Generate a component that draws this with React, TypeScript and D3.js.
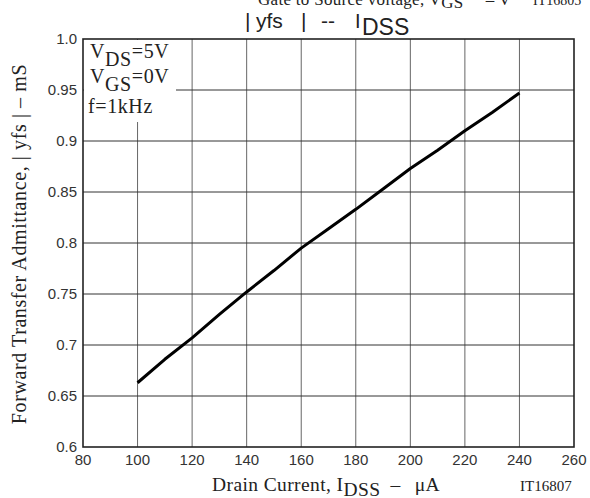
import * as d3 from "d3";

// Drain current (uA) vs forward transfer admittance (mS)
const currents = [100, 110, 120, 130, 140, 150, 160, 170, 180, 190, 200, 210, 220, 230, 240];
const admittance = [0.663, 0.686, 0.707, 0.730, 0.752, 0.773, 0.795, 0.814, 0.833, 0.853, 0.873, 0.891, 0.910, 0.928, 0.947];

const xTicks = [80, 100, 120, 140, 160, 180, 200, 220, 240, 260];
const yTicks = [0.6, 0.65, 0.7, 0.75, 0.8, 0.85, 0.9, 0.95, 1.0];
const yTickLabels = ["0.6", "0.65", "0.7", "0.75", "0.8", "0.85", "0.9", "0.95", "1.0"];

const serif = "'Liberation Serif', 'Times New Roman', serif";
const sans = "'Liberation Sans', Arial, sans-serif";

export default function App() {
  const width = 590;
  const height = 498;

  const marginTop = 39;
  const marginRight = 16;
  const marginBottom = 51;
  const marginLeft = 83;

  const x = d3.scaleLinear().domain([80, 260]).range([marginLeft, width - marginRight]);
  const y = d3.scaleLinear().domain([0.6, 1.0]).range([height - marginBottom, marginTop]);

  const points = currents.map((c, i) => [c, admittance[i]] as [number, number]);
  const line = d3.line<[number, number]>()
    .x(d => x(d[0]))
    .y(d => y(d[1]));

  return (
    <svg
      width={width}
      height={height}
      viewBox={`0 0 ${width} ${height}`}
      style={{ position: "absolute", left: 0, top: 0, background: "white" }}
    >
      {/* header of the previous chart, cut by the page edge */}
      <text x={258} y={5} fontFamily={serif} fontSize={17} fill="#222" letterSpacing={0.3}>
        Gate to Source voltage, V
        <tspan dy={3}>GS</tspan>
        <tspan dy={-3} dx={22}>–</tspan>
        <tspan dx={4}>V</tspan>
      </text>
      <text x={533} y={5} fontFamily={serif} fontSize={14} fill="#222">IT16805</text>

      {/* title */}
      <text y={28} fontFamily={sans} fontSize={21} fill="#222">
        <tspan x={245}>|</tspan>
        <tspan x={256}>yfs</tspan>
        <tspan x={301}>|</tspan>
        <tspan x={321}>--</tspan>
        <tspan x={355} fontSize={20}>I</tspan>
        <tspan x={362} dy={7} fontSize={23}>DSS</tspan>
      </text>

      {/* grid */}
      <g stroke="#666" strokeWidth={1}>
        {xTicks.slice(1, -1).map(t => (
          <line key={"vx" + t} x1={x(t)} x2={x(t)} y1={y(1.0)} y2={y(0.6)} />
        ))}
      </g>
      <g stroke="#333" strokeWidth={1}>
        {yTicks.slice(1, -1).map(t => (
          <line key={"hy" + t} x1={x(80)} x2={x(260)} y1={y(t)} y2={y(t)} />
        ))}
      </g>

      {/* legend box covering grid */}
      <rect x={x(80) + 1} y={y(1.0) + 1} width={92} height={82} fill="white" />
      <g fontFamily={serif} fontSize={20} fill="#222" letterSpacing={0.6}>
        <text x={90} y={58}>
          V<tspan dy={8}>DS</tspan><tspan dy={-8}>=5V</tspan>
        </text>
        <text x={90} y={83}>
          V<tspan dy={8}>GS</tspan><tspan dy={-8}>=0V</tspan>
        </text>
        <text x={88} y={113}>f=1kHz</text>
      </g>

      {/* frame */}
      <rect
        x={x(80)}
        y={y(1.0)}
        width={x(260) - x(80)}
        height={y(0.6) - y(1.0)}
        fill="none"
        stroke="#222"
        strokeWidth={1.6}
      />

      {/* curve */}
      <path d={line(points) ?? ""} fill="none" stroke="black" strokeWidth={3} strokeLinejoin="round" />

      {/* y tick labels */}
      <g fontFamily={sans} fontSize={15} fill="#333" textAnchor="end">
        {yTicks.map((t, i) => (
          <text key={"yl" + t} x={x(80) - 6} y={y(t) + 5}>{yTickLabels[i]}</text>
        ))}
      </g>

      {/* x tick labels */}
      <g fontFamily={sans} fontSize={15} fill="#333" textAnchor="middle">
        {xTicks.map(t => (
          <text key={"xl" + t} x={x(t)} y={465}>{t}</text>
        ))}
      </g>

      {/* x axis title */}
      <text x={212} y={491} fontFamily={serif} fontSize={19.5} fill="#222" letterSpacing={0.4}>
        Drain Current, I<tspan dy={5}>DSS</tspan><tspan dy={-5} dx={10}>–</tspan><tspan dx={14}>μA</tspan>
      </text>
      <text x={520} y={491} fontFamily={serif} fontSize={15} fill="#222">IT16807</text>

      {/* y axis title */}
      <text
        transform={`translate(26, 244) rotate(-90)`}
        textAnchor="middle"
        fontFamily={serif}
        fontSize={20}
        fill="#222"
        letterSpacing={0.6}
      >
        Forward Transfer Admittance, | yfs |  –  mS
      </text>
    </svg>
  );
}
